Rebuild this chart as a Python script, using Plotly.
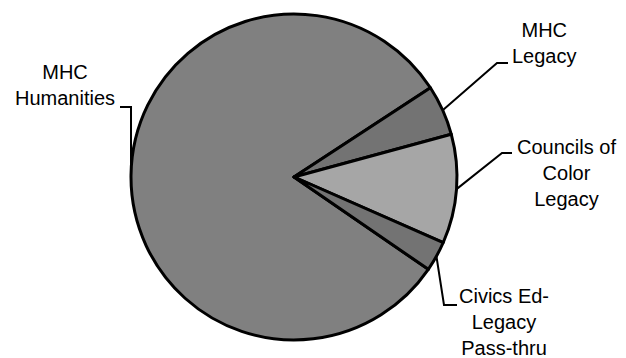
import math
import plotly.graph_objects as go

# Data
labels = ["MHC Humanities", "MHC Legacy", "Councils of Color Legacy", "Civics Ed-Legacy Pass-thru"]
label_text = ["MHC<br>Humanities", "MHC<br>Legacy", "Councils of<br>Color<br>Legacy", "Civics Ed-<br>Legacy<br>Pass-thru"]
values = [81.2, 5.0, 10.8, 3.0]
colors = ["#808080", "#737373", "#a6a6a6", "#737373"]

W, H = 626, 358
CX, CY, R = 294, 177, 163
ROT = 124.5

# label layout (pixels): text centre, elbow, end of leader
label_pos = [(65, 85), (544, 43), (566, 173), (504, 322)]
elbows = [(None, 107), (497, 63), (502, 153), (444, 305)]
ends = [(120, 107), (508, 63), (512, 153), (457, 305)]

def px(x):
    return x / W

def py(y):
    return (H - y) / H

fig = go.Figure(go.Pie(
    labels=labels, values=values, sort=False, direction="clockwise",
    rotation=ROT, textinfo="none", hoverinfo="none", showlegend=False,
    marker=dict(colors=colors, line=dict(color="black", width=3)),
    domain=dict(x=[px(CX - R), px(CX + R)], y=[py(CY + R), py(CY - R)]),
))

total = sum(values)
cum = 0
shapes = []
annotations = []
for i, v in enumerate(values):
    mid = ROT + (cum + v / 2) / total * 360
    cum += v
    a = math.radians(mid)
    sx = CX + R * math.sin(a)
    sy = CY - R * math.cos(a)
    ex, ey = elbows[i]
    if ex is None:
        ex = sx
    fx, fy = ends[i]
    path = f"M {px(sx)} {py(sy)} L {px(ex)} {py(ey)} L {px(fx)} {py(fy)}"
    shapes.append(dict(type="path", path=path, xref="paper", yref="paper",
                       line=dict(color="black", width=2)))
    lx, ly = label_pos[i]
    annotations.append(dict(text=label_text[i], x=px(lx), y=py(ly), xref="paper", yref="paper",
                            xanchor="center", yanchor="middle", showarrow=False,
                            font=dict(family="Liberation Sans, Arial", size=20, color="black"),
                            align="center"))

fig.update_layout(
    width=W, height=H, margin=dict(l=0, r=0, t=0, b=0),
    paper_bgcolor="white", plot_bgcolor="white",
    shapes=shapes, annotations=annotations,
)
fig.write_html("out.html")
